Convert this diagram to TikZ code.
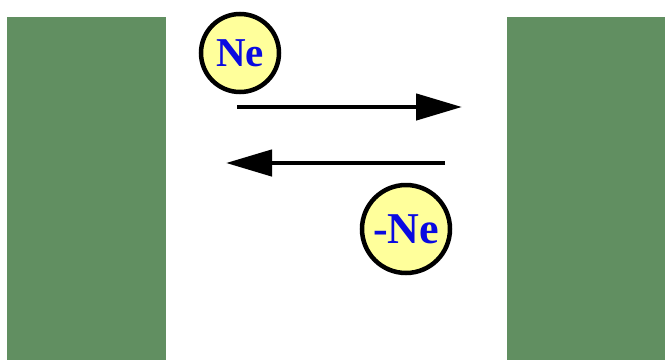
\documentclass[tikz,border=0pt]{standalone}
\usepackage{fontspec}
\setmainfont{Liberation Serif}
\usetikzlibrary{arrows.meta}
\definecolor{wallgreen}{RGB}{97,143,97}
\definecolor{atomyellow}{RGB}{255,255,155}
\definecolor{atomblue}{RGB}{10,10,225}
\begin{document}
\begin{tikzpicture}[x=1pt,y=-1pt,
  wall/.style={fill=wallgreen,draw=none},
  atom/.style={circle,draw=black,line width=4.5pt,fill=atomyellow,inner sep=0pt,
    text=atomblue},
  flow/.style={line width=4.5pt,-{Triangle[length=46pt,width=26pt]}}]
\useasboundingbox (0,0) rectangle (665,362);
\fill[white] (0,0) rectangle (665,362);
\path[wall] (7,17) rectangle (166,360);
\path[wall] (507,17) rectangle (665,360);
\node[atom,minimum size=78pt,font=\bfseries\fontsize{41}{41}\selectfont] (ne) at (240,53) {Ne};
\node[atom,minimum size=88pt,font=\bfseries\fontsize{44}{44}\selectfont] (mne) at (406,229) {-Ne};
\coordinate (a1s) at (237,107);
\coordinate (a1e) at (462,107);
\coordinate (a2s) at (445,163);
\coordinate (a2e) at (226,163);
\draw[flow] (a1s) -- (a1e);
\draw[flow] (a2s) -- (a2e);
\end{tikzpicture}
\end{document}
